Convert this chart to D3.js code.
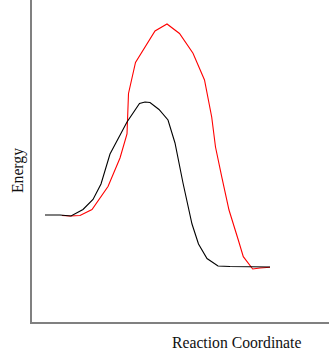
<!DOCTYPE html>
<html><head><meta charset="utf-8">
<script src="https://cdn.jsdelivr.net/npm/d3@7"></script>
<style>html,body{margin:0;padding:0;background:#fff;}svg{display:block;}</style>
</head><body>
<script>
// Reaction coordinate (x) and energy (y) in arbitrary units
const blackX = [14,29,40,52,62,70,79,96,108.5,114,119,128,137,144,152,161,167.5,176,187,199,239];
const blackY = [108,108,107,113.5,123.5,139,169,201,219.5,221,220.5,213.5,203,180,140,99,79,64.5,57,56.5,56];
const redX = [31,39,49,61,77,89,96,97.5,104.5,124,136,148.5,162,173.5,180.7,184.5,190.7,198,207.3,212.3,221.7,229,239];
const redY = [107.5,107,107.5,113.5,136.5,165,189,229.5,260.5,292,299,289.5,269.7,243,206,176,146.3,113,83,66.3,54,55,55.7];
const xLabel = "Reaction Coordinate";
const yLabel = "Energy";

const W = 329, H = 364;
const svg = d3.select("body").append("svg").attr("width", W).attr("height", H);
const x = d3.scaleLinear().domain([0, 298]).range([31, 329]);
const y = d3.scaleLinear().domain([0, 323]).range([323, 0]);

const line = d3.line().x(d => x(d[0])).y(d => y(d[1]));

svg.append("path").datum(d3.zip(redX, redY)).attr("d", line)
  .attr("fill", "none").attr("stroke", "#ff0000").attr("stroke-width", 1.1);
svg.append("path").datum(d3.zip(blackX, blackY)).attr("d", line)
  .attr("fill", "none").attr("stroke", "#000000").attr("stroke-width", 1.1);

// axes
svg.append("line").attr("x1", x(0)).attr("x2", x(0)).attr("y1", y(323)).attr("y2", y(0) + 1)
  .attr("stroke", "#808080").attr("stroke-width", 2);
svg.append("line").attr("x1", x(0) - 1).attr("x2", x(298)).attr("y1", y(0)).attr("y2", y(0))
  .attr("stroke", "#808080").attr("stroke-width", 2);

svg.append("text").attr("x", 236.7).attr("y", 348.3).attr("text-anchor", "middle")
  .attr("font-family", "'Liberation Serif','Times New Roman',serif").attr("font-size", 15.7)
  .attr("fill", "#111").text(xLabel);
svg.append("text").attr("transform", "translate(22.5,170.5) rotate(-90)").attr("text-anchor", "middle")
  .attr("font-family", "'Liberation Serif','Times New Roman',serif").attr("font-size", 15.7)
  .attr("fill", "#111").text(yLabel);
</script>
</body></html>
